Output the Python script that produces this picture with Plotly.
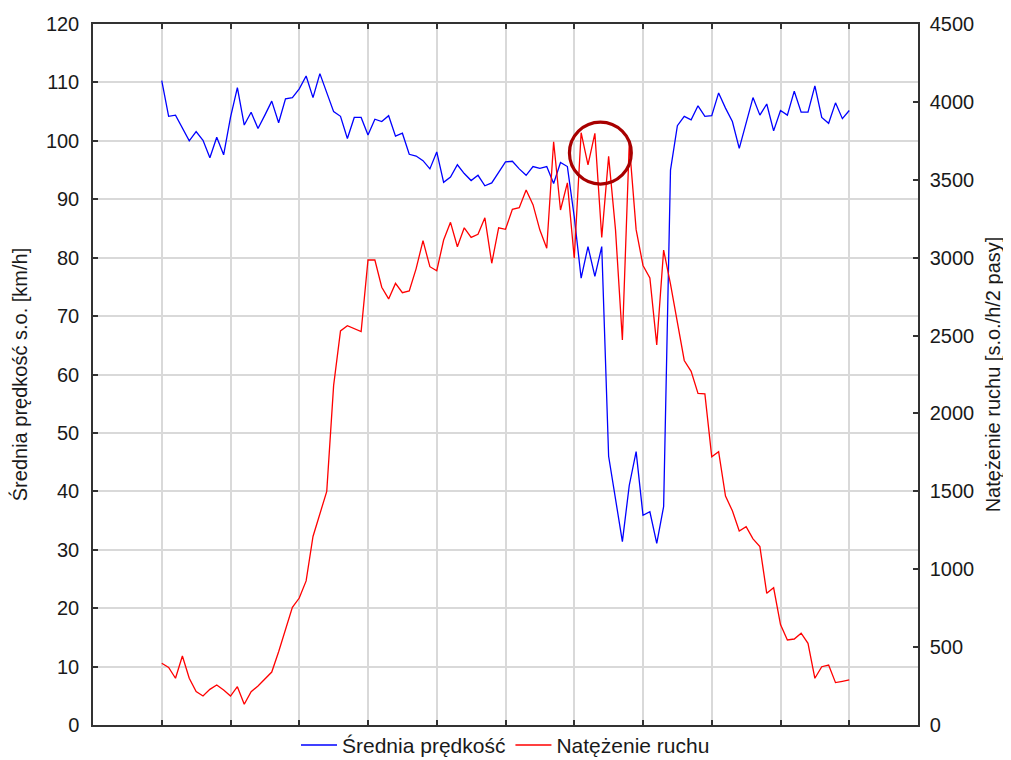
import plotly.graph_objects as go

# sample index (10 samples per grid interval)
idx = list(range(101))

speed = [110.3, 104.2, 104.4, 102.1, 100.0, 101.6, 100.1, 97.1, 100.6, 97.6,
         104.0, 109.1, 102.7, 104.9, 102.1, 104.4, 106.8, 103.1, 107.2, 107.4,
         108.9, 111.1, 107.4, 111.5, 108.1, 105.0, 104.2, 100.4, 104.0, 104.0,
         101.0, 103.7, 103.3, 104.3, 100.8, 101.3, 97.7, 97.4, 96.6, 95.2,
         98.1, 92.9, 93.8, 95.9, 94.4, 93.2, 94.1, 92.3, 92.8, 94.7,
         96.4, 96.5, 95.2, 94.1, 95.6, 95.3, 95.6, 92.7, 96.3, 95.6,
         87.0, 76.5, 81.9, 76.8, 81.9, 46.0, 39.0, 31.4, 41.0, 46.8,
         35.9, 36.5, 31.1, 37.4, 95.0, 102.6, 104.2, 103.6, 106.0, 104.2,
         104.3, 108.2, 105.6, 103.3, 98.7, 103.0, 107.4, 104.4, 106.3, 101.7,
         105.2, 104.4, 108.5, 104.9, 104.9, 109.4, 104.0, 103.0, 106.5, 103.8,
         105.2]

flow = [396, 370, 300, 443, 300, 214, 186, 229, 257, 225,
        186, 246, 133, 214, 250, 293, 340, 470, 620, 755,
        815, 925, 1210, 1348, 1500, 2180, 2530, 2563, 2545, 2525,
        2985, 2985, 2810, 2735, 2835, 2775, 2786, 2930, 3109, 2942,
        2916, 3113, 3227, 3070, 3192, 3130, 3150, 3256, 2964, 3192,
        3182, 3310, 3321, 3434, 3340, 3177, 3060, 3744, 3306, 3480,
        2996, 3802, 3595, 3798, 3130, 3650, 3180, 2471, 3734, 3180,
        2950, 2870, 2440, 3049, 2830, 2580, 2340, 2270, 2129, 2125,
        1722, 1754, 1470, 1375, 1245, 1273, 1195, 1145, 845, 881,
        645, 546, 552, 589, 524, 300, 374, 385, 272, 280,
        289]

speed_name = "Średnia prędkość"
flow_name = "Natężenie ruchu"
left_title = "Średnia prędkość s.o. [km/h]"
right_title = "Natężenie ruchu [s.o./h/2 pasy]"

font_family = "Liberation Sans, Arial, sans-serif"
txt = "#1a1a1a"

fig = go.Figure()
fig.add_trace(go.Scatter(x=idx, y=speed, name=speed_name, mode="lines",
                         line=dict(color="#0000ff", width=1.3), yaxis="y"))
fig.add_trace(go.Scatter(x=idx, y=flow, name=flow_name, mode="lines",
                         line=dict(color="#ff0000", width=1.3), yaxis="y2"))

# highlight circle
fig.add_shape(type="circle", xref="x", yref="y",
              x0=59.3, x1=68.3, y0=92.6, y1=103.2,
              line=dict(color="#a80000", width=3.2), layer="above")

# page body has an 8px default margin; compensate so the plot lands where the reference has it
fig.update_layout(
    template="none",
    width=1003, height=752,
    margin=dict(l=85, r=93, t=16, b=35, autoexpand=False),
    paper_bgcolor="white", plot_bgcolor="white",
    font=dict(family=font_family, size=19, color=txt),
    showlegend=True,
    legend=dict(orientation="h", x=0.5, xanchor="center", y=-0.029, yanchor="middle",
                font=dict(size=21, color=txt), bgcolor="rgba(0,0,0,0)",
                itemwidth=36, tracegroupgap=0),
    xaxis=dict(range=[-10, 110], tick0=0, dtick=10, showticklabels=False,
               ticks="inside", ticklen=5, tickwidth=1.5, tickcolor="#333",
               showgrid=True, gridcolor="#d9d9d9", gridwidth=1.5,
               showline=True, linecolor="#333", linewidth=1.5, mirror="ticks",
               zeroline=False, automargin=False),
    yaxis=dict(range=[0, 120], tick0=0, dtick=10,
               ticks="inside", ticklen=5, tickwidth=1.5, tickcolor="#333",
               showgrid=True, gridcolor="#d9d9d9", gridwidth=1.5,
               showline=True, linecolor="#333", linewidth=1.5, mirror=True,
               zeroline=False, automargin=False,
               tickfont=dict(size=20, color=txt), ticklabelstandoff=8,
               title=dict(text=left_title, font=dict(size=20, color=txt), standoff=15)),
    yaxis2=dict(range=[0, 4500], tick0=0, dtick=500, overlaying="y", side="right",
                ticks="inside", ticklen=5, tickwidth=1.5, tickcolor="#333",
                showgrid=False, showline=True, linecolor="#333", linewidth=1.5,
                zeroline=False, automargin=False,
                tickfont=dict(size=20, color=txt), ticklabelstandoff=6,
                title=dict(text=right_title, font=dict(size=20, color=txt), standoff=13)),
)

fig.write_html("out.html")
